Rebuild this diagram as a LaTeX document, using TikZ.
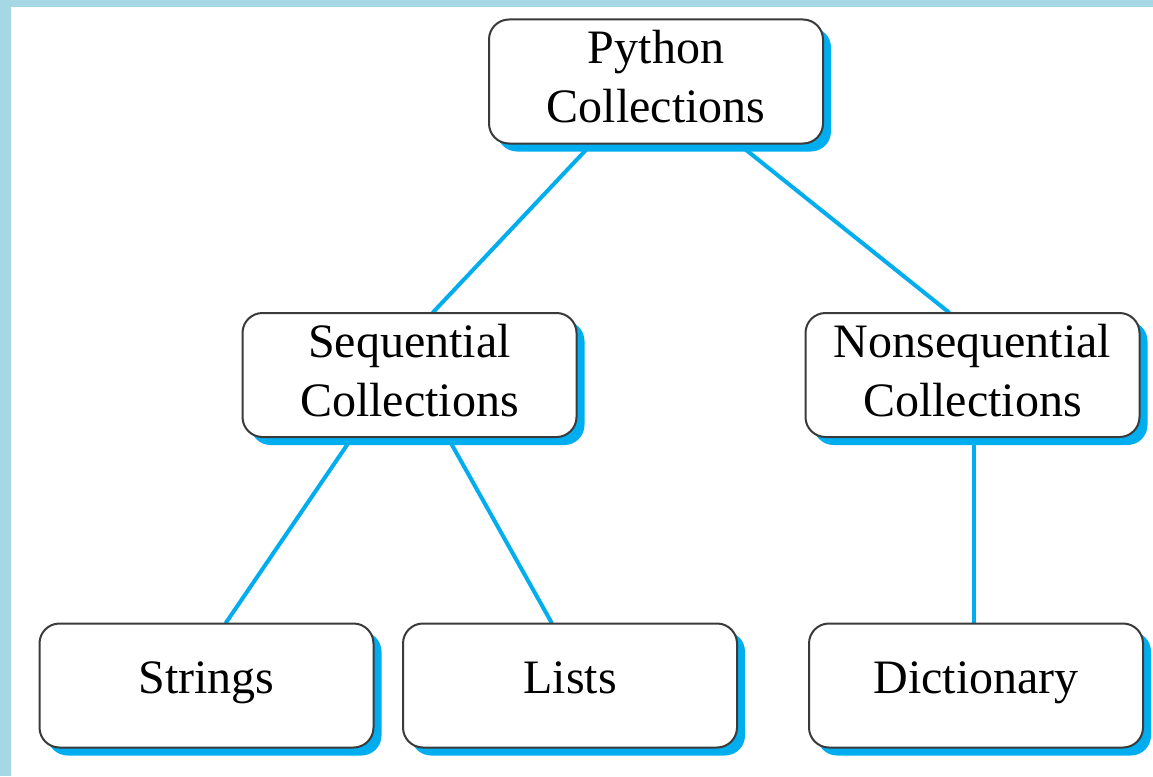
\documentclass[tikz,border=0pt]{standalone}
\usepackage{fontspec}
\setmainfont{Liberation Serif}
\usetikzlibrary{shadows,calc}
\definecolor{linkblue}{HTML}{00AEEF}
\definecolor{framebg}{HTML}{A6D7E5}
\definecolor{boxline}{HTML}{3A3A3A}
\newcommand{\dropstrut}{\rule[-10pt]{0pt}{10pt}}
\begin{document}
\begin{tikzpicture}[x=1pt,y=-1pt,
  geom/.style={minimum width=334pt, minimum height=124pt, inner sep=0pt},
  cbox/.style={geom, draw=boxline, line width=2pt, fill=white, rounded corners=20pt,
    align=center, font=\fontsize{48}{59}\selectfont,
    general shadow={shadow xshift=8pt, shadow yshift=-8pt, fill=linkblue, draw=none}},
  twoline/.style={cbox},
  oneline/.style={cbox, text height=24pt, text depth=8pt},
  link/.style={draw=linkblue, line width=4pt}]
\useasboundingbox (0,0) rectangle (1153,776);
\fill[white] (0,0) rectangle (1153,776);
\fill[framebg] (0,0) rectangle (11,776);
\fill[framebg] (0,0) rectangle (1153,7);

\coordinate (cpy) at (656,81.5);
\coordinate (cseq) at (409.5,375);
\coordinate (cnon) at (972.5,375);
\coordinate (cstr) at (206.5,685.5);
\coordinate (clst) at (570,685.5);
\coordinate (cdic) at (976,685.5);

% geometry nodes (invisible) used to route connectors
\node[geom] (py) at (cpy) {};
\node[geom] (seq) at (cseq) {};
\node[geom] (non) at (cnon) {};
\node[geom] (str) at (cstr) {};
\node[geom] (lst) at (clst) {};
\node[geom] (dic) at (cdic) {};

\draw[link] ($(py.south west)!0.308!(py.south east)$) -- ($(seq.north west)!0.569!(seq.north east)$);
\draw[link] ($(py.south west)!0.746!(py.south east)$) -- ($(non.north west)!0.431!(non.north east)$);
\draw[link] ($(seq.south west)!0.329!(seq.south east)$) -- ($(str.north west)!0.557!(str.north east)$);
\draw[link] ($(seq.south west)!0.614!(seq.south east)$) -- ($(lst.north west)!0.446!(lst.north east)$);
\draw[link] ([xshift=1.5pt]non.south) -- ([xshift=1.5pt]non.south |- dic.north);

\node[twoline] (pyb) at (cpy) {Python\\Collections\dropstrut};
\node[twoline] (seqb) at (cseq) {Sequential\\Collections\dropstrut};
\node[twoline] (nonb) at (cnon) {Nonsequential\\Collections\dropstrut};
\node[oneline] (strb) at (cstr) {Strings};
\node[oneline] (lstb) at (clst) {Lists};
\node[oneline] (dicb) at (cdic) {Dictionary};
\end{tikzpicture}
\end{document}
